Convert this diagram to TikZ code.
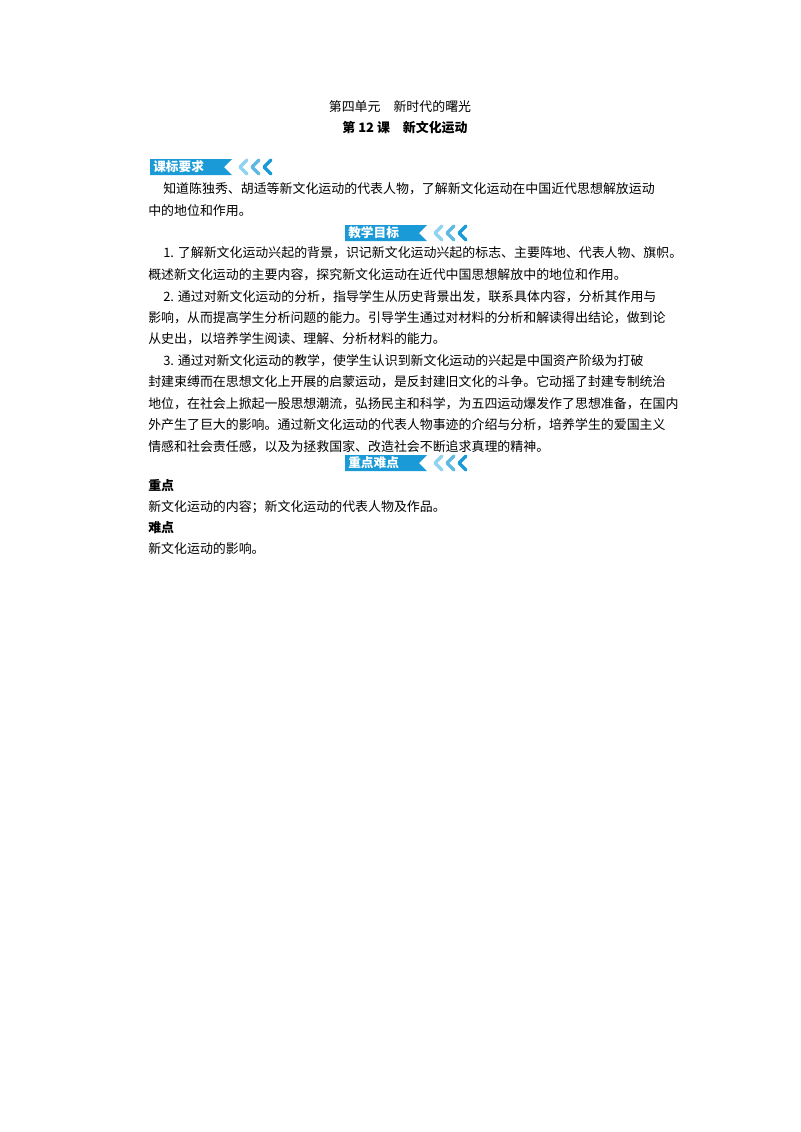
\documentclass[tikz,border=0pt]{standalone}
\usepackage{fontspec}
\setmainfont{Noto Sans CJK SC}
\tikzset{>=stealth}
\usetikzlibrary{calc}
\definecolor{badgeblue}{HTML}{1A9AD6}
\definecolor{chevlight}{HTML}{8FD3F2}
\tikzset{
  line/.style={anchor=west,inner sep=0pt,font=\fontsize{9.7pt}{12pt}\selectfont},
  badgetext/.style={anchor=west,inner sep=0pt,text=white,font=\fontsize{9.5pt}{10pt}\selectfont\bfseries}
}
% badge: #1 name, #2 x, #3 y top, #4 text
\newcommand{\badge}[4]{%
  \fill[badgeblue] (#2,#3) -- ++(82,0) -- ++(-8,8) -- ++(8,8) -- ++(-82,0) -- cycle;
  \node[badgetext] (#1) at (#2+3,#3+8) {#4};
  \foreach \i/\c in {0/chevlight,1/badgeblue!70,2/badgeblue} {
    \draw[\c,line width=2.6pt,line cap=round,line join=round]
      (#2+97+\i*12,#3+1) -- ++(-7,7) -- ++(7,7);
  }
}
\begin{document}
\begin{tikzpicture}[x=0.75pt,y=-0.75pt]
  \useasboundingbox (0,0) rectangle (800,1132);
  \node[line,anchor=center] (unit) at (400,107) {第四单元\quad 新时代的曙光};
  \node[line,anchor=center,font=\fontsize{9.7pt}{12pt}\selectfont\bfseries] (lesson) at (405,128) {第 12 课\quad 新文化运动};

  \badge{kb}{150}{159}{课标要求}
  \node[line] (a1) at (163,189) {知道陈独秀、胡适等新文化运动的代表人物，了解新文化运动在中国近代思想解放运动};
  \node[line] (a2) at (148,211) {中的地位和作用。};

  \badge{jx}{345}{225}{教学目标}
  \node[line] (b1) at (163,253) {1. 了解新文化运动兴起的背景，识记新文化运动兴起的标志、主要阵地、代表人物、旗帜。};
  \node[line] (b2) at (148,275) {概述新文化运动的主要内容，探究新文化运动在近代中国思想解放中的地位和作用。};
  \node[line] (b3) at (163,297) {2. 通过对新文化运动的分析，指导学生从历史背景出发，联系具体内容，分析其作用与};
  \node[line] (b4) at (148,318) {影响，从而提高学生分析问题的能力。引导学生通过对材料的分析和解读得出结论，做到论};
  \node[line] (b5) at (148,339) {从史出，以培养学生阅读、理解、分析材料的能力。};
  \node[line] (b6) at (163,361) {3. 通过对新文化运动的教学，使学生认识到新文化运动的兴起是中国资产阶级为打破};
  \node[line] (b7) at (148,382) {封建束缚而在思想文化上开展的启蒙运动，是反封建旧文化的斗争。它动摇了封建专制统治};
  \node[line] (b8) at (148,404) {地位，在社会上掀起一股思想潮流，弘扬民主和科学，为五四运动爆发作了思想准备，在国内};
  \node[line] (b9) at (148,425) {外产生了巨大的影响。通过新文化运动的代表人物事迹的介绍与分析，培养学生的爱国主义};
  \node[line] (b10) at (148,447) {情感和社会责任感，以及为拯救国家、改造社会不断追求真理的精神。};

  \badge{zd}{345}{455}{重点难点}
  \node[line,font=\fontsize{9.7pt}{12pt}\selectfont\bfseries] (c1) at (148,486) {重点};
  \node[line] (c2) at (148,507) {新文化运动的内容；新文化运动的代表人物及作品。};
  \node[line,font=\fontsize{9.7pt}{12pt}\selectfont\bfseries] (c3) at (148,528) {难点};
  \node[line] (c4) at (148,549) {新文化运动的影响。};
\end{tikzpicture}
\end{document}
